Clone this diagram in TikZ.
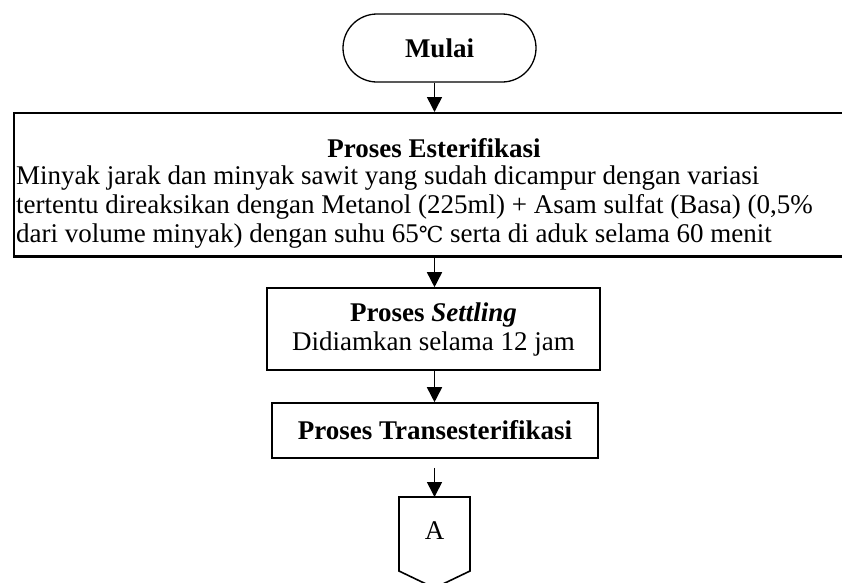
\documentclass[tikz,border=0pt]{standalone}
\usepackage{fontspec}
\setmainfont{Liberation Serif}
\newfontfamily\symfont{DejaVu Serif}
\usetikzlibrary{arrows.meta,shapes.misc}
\begin{document}
\begin{tikzpicture}[x=1pt,y=1pt,
  box/.style={draw,line width=1.6pt,inner sep=0pt},
  flow/.style={line width=1.6pt,-{Triangle[length=15pt,width=15pt]}},
  txt/.style={font=\fontsize{27}{29}\selectfont,inner sep=0pt}]
\useasboundingbox (0,0) rectangle (842,-582);
% Mulai
\node[draw,line width=1.3pt,rounded rectangle,minimum width=193,minimum height=68,inner sep=0pt,
  font=\fontsize{27}{29}\selectfont\bfseries] (mulai) at (439.5,-48) {Mulai};
% Esterifikasi box
\node[box,anchor=north west,minimum width=835,minimum height=144] (ester) at (13,-112) {};
\begin{scope}
\clip (13,-112) rectangle (850,-256);
\node[txt,font=\fontsize{27}{29}\selectfont\bfseries] (esttitle) at (434,-148) {Proses Esterifikasi};
\node[txt,anchor=west] (l1) at (16,-178) {Minyak jarak dan minyak sawit yang sudah dicampur dengan variasi};
\node[txt,anchor=west] (l2) at (16,-207) {tertentu direaksikan dengan Metanol (225ml) + Asam sulfat (Basa) (0,5\%};
\node[txt,anchor=west] (l3) at (16,-236) {dari volume minyak) dengan suhu 65{\symfont\fontsize{22}{29}\selectfont ℃} serta di aduk selama 60 menit};
\end{scope}
\draw[box] (13,-256) -- (848,-256);
% Settling
\node[box,minimum width=333,minimum height=82,align=center,
  font=\fontsize{27}{29}\selectfont] (settle) at (433.5,-329)
  {\textbf{Proses \textit{Settling}}\\Didiamkan selama 12 jam};
% Transesterifikasi
\node[box,minimum width=326,minimum height=55,
  font=\fontsize{27}{29}\selectfont\bfseries] (trans) at (435,-430.5) {Proses Transesterifikasi};
% Off-page connector
\coordinate (conntop) at (434.5,-497);
\draw[line width=1.6pt] (399,-497) -- (470,-497) -- (470,-571) -- (434.5,-588) -- (399,-571) -- cycle;
\node[txt] (A) at (434.5,-531) {A};
% arrows
\draw[flow] (mulai.south -| conntop) -- (ester.north -| conntop);
\draw[flow] (ester.south -| conntop) -- (settle.north -| conntop);
\draw[flow] (settle.south -| conntop) -- (trans.north -| conntop);
\draw[flow,shorten <=9pt] (trans.south -| conntop) -- (conntop);
\end{tikzpicture}
\end{document}
